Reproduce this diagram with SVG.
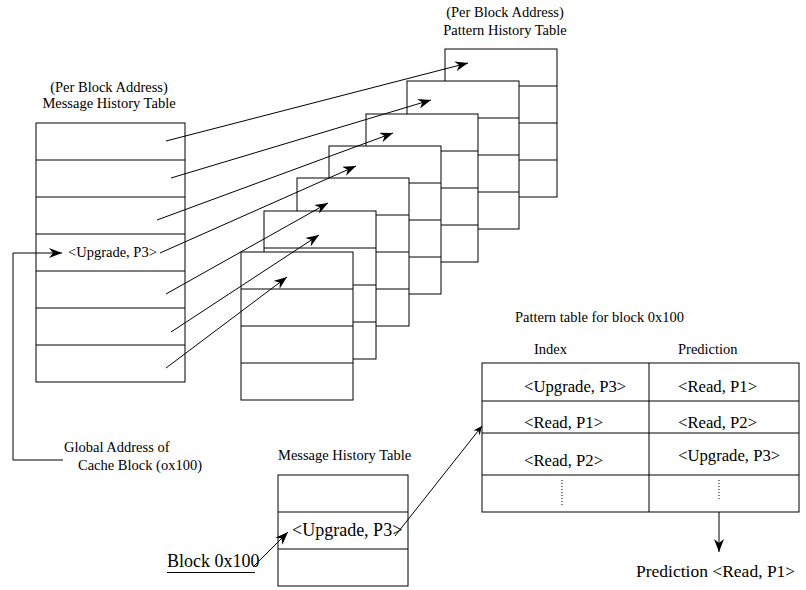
<svg xmlns="http://www.w3.org/2000/svg" width="806" height="590" viewBox="0 0 806 590">
<style>
.t{font-family:"Liberation Serif","Times New Roman",serif;fill:#000}
.s{font-size:14.5px}
.m{font-size:16.7px}
.l{font-size:18px}
.box{fill:#fff;stroke:#000;stroke-width:1}
.ln{stroke:#000;stroke-width:1;fill:none}
.ar{stroke:#000;stroke-width:1;fill:none;marker-end:url(#ah)}
</style>
<defs>
<marker id="ah" markerWidth="14" markerHeight="10" refX="13" refY="5" orient="auto" markerUnits="userSpaceOnUse">
<path d="M0,0 L13,5 L0,10 L4,5 Z" fill="#000"/>
</marker>
<marker id="ahs" markerWidth="10" markerHeight="8" refX="9" refY="4" orient="auto" markerUnits="userSpaceOnUse">
<path d="M0,0 L9,4 L0,8 L3,4 Z" fill="#000"/>
</marker>
<g id="pht">
<rect class="box" x="0" y="0" width="112" height="148"/>
<path class="ln" d="M0,37H112M0,74H112M0,111H112"/>
</g>
</defs>
<rect width="806" height="590" fill="#fff"/>

<g id="mht-left">
<text class="t s" x="109" y="92" text-anchor="middle">(Per Block Address)</text>
<text class="t s" x="109" y="108" text-anchor="middle">Message History Table</text>
<rect class="box" x="36" y="123" width="149" height="259"/>
<path class="ln" d="M36,160H185M36,197H185M36,234H185M36,271H185M36,308H185M36,345H185"/>
<text class="t s" x="68" y="257">&lt;Upgrade, P3&gt;</text>
</g>

<g id="pht-label">
<text class="t s" x="505" y="17" text-anchor="middle">(Per Block Address)</text>
<text class="t s" x="505" y="35" text-anchor="middle">Pattern History Table</text>
</g>
<g id="pht1"><use href="#pht" x="445" y="49"/></g>
<g id="pht2"><use href="#pht" x="407" y="81"/></g>
<g id="pht3"><use href="#pht" x="366" y="114"/></g>
<g id="pht4"><use href="#pht" x="329" y="146"/></g>
<g id="pht5"><use href="#pht" x="297" y="178"/></g>
<g id="pht6"><use href="#pht" x="264" y="211"/></g>
<g id="pht7"><use href="#pht" x="241" y="252"/></g>

<g id="global-label">
<text class="t s" x="64" y="452">Global Address of</text>
<text class="t s" x="78" y="470">Cache Block (ox100)</text>
</g>

<g id="mht-bottom">
<text class="t s" x="278" y="460">Message History Table</text>
<rect class="box" x="278" y="475" width="130" height="111"/>
<path class="ln" d="M278,512H408M278,549H408"/>
<text class="t l" x="292" y="536">&lt;Upgrade, P3&gt;</text>
</g>

<g id="block-label">
<text class="t l" x="167" y="567">Block 0x100</text>
<path class="ln" d="M167,572.5H255"/>
</g>

<g id="pattern-table">
<text class="t s" x="515" y="322">Pattern table for block 0x100</text>
<text class="t s" x="534" y="354">Index</text>
<text class="t s" x="678" y="354">Prediction</text>
<rect class="box" x="482" y="363" width="317" height="149"/>
<path class="ln" d="M482,401H799M482,433H799M482,475H799M649,363V512"/>
<path class="ln" d="M562,480V507M719,480V500" stroke-dasharray="1,2"/>
<text class="t m" x="524" y="392">&lt;Upgrade, P3&gt;</text>
<text class="t m" x="678" y="392">&lt;Read, P1&gt;</text>
<text class="t m" x="524" y="428">&lt;Read, P1&gt;</text>
<text class="t m" x="678" y="428">&lt;Read, P2&gt;</text>
<text class="t m" x="524" y="466">&lt;Read, P2&gt;</text>
<text class="t m" x="678" y="461">&lt;Upgrade, P3&gt;</text>
</g>

<g id="prediction-label">
<text class="t" font-size="17.5" x="636" y="577">Prediction &lt;Read, P1&gt;</text>
</g>

<g id="connectors">
<path class="ar" d="M166,141L468,63"/>
<path class="ar" d="M171,178L431,100"/>
<path class="ar" d="M157,220L393,133"/>
<path class="ar" d="M160,253L356,166"/>
<path class="ar" d="M166,294L328,203"/>
<path class="ar" d="M171,332L319,235"/>
<path class="ar" d="M166,368L287,277"/>
<path class="ar" d="M63,460H13V253H62"/>
<path class="ar" d="M253,567L288,532"/>
<path class="ln" d="M395,536L482,426" marker-end="url(#ahs)"/>
<path class="ar" d="M719,512V552"/>
</g>
</svg>
